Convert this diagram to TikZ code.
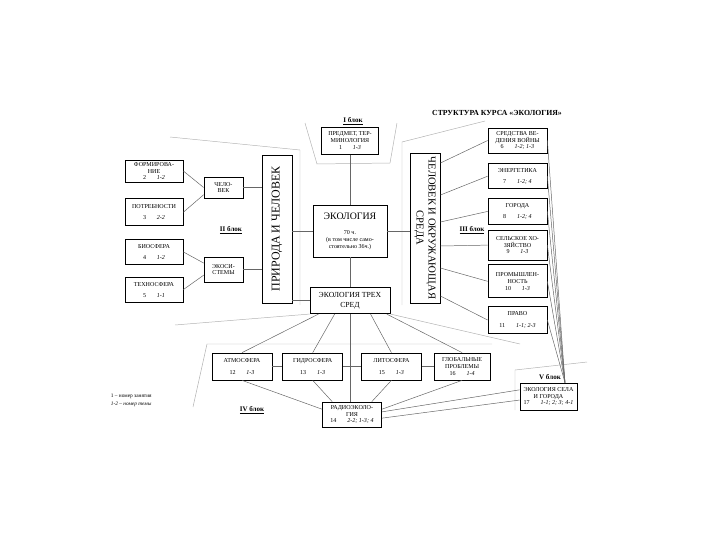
\documentclass[tikz,border=0pt]{standalone}
\usepackage{fontspec}
\setmainfont{Liberation Serif}
\usetikzlibrary{positioning}
\newcommand{\lesson}[2]{#1\hspace{1.8em}\textit{#2}}

\begin{document}
\begin{tikzpicture}[
    x=0.25mm, y=-0.25mm,
    every node/.style={align=center, font=\fontsize{4.3}{4.9}\selectfont},
    box/.style={draw, line width=0.5pt, inner sep=0.5pt},
    lbox/.style={box, minimum width=14.5mm},
    rbox/.style={box, minimum width=14.75mm},
    sbox/.style={box, minimum width=15mm, minimum height=6.75mm},
    tall/.style={box, line width=0.6pt, minimum width=37.5mm, minimum height=7.5mm, font=\fontsize{7.5}{8.5}\selectfont},
    blok/.style={font=\fontsize{5}{6}\selectfont\bfseries},
    link/.style={draw=black!60, line width=0.35pt},
    frame/.style={draw=black!30, line width=0.35pt}
]
\useasboundingbox (0,0) rectangle (720,540);

\node[font=\fontsize{5.5}{6.5}\selectfont\bfseries] (title) at (497,113) {СТРУКТУРА КУРСА «ЭКОЛОГИЯ»};

\node[box, minimum width=18.5mm, minimum height=13mm] (ecol) at (350,231)
    {{\fontsize{7}{8}\selectfont ЭКОЛОГИЯ}\\[6pt]70 ч.\\(в том числе само-\\стоятельно 36ч.)};
\node[box, minimum width=20mm, minimum height=6.5mm, below=7.5mm of ecol, font=\fontsize{5.5}{6.5}\selectfont] (ets) {ЭКОЛОГИЯ ТРЕХ\\СРЕД};
\node[box, minimum width=14.25mm, minimum height=6.75mm, above=12.5mm of ecol] (subj) {ПРЕДМЕТ, ТЕР-\\МИНОЛОГИЯ\\\lesson{1}{1-3}};
\node[blok] (b1) at (353,121) {\underline{I блок}};

\node[tall, rotate=90, minimum width=37mm, font=\fontsize{8.5}{9.5}\selectfont] (nature) at (277,229) {ПРИРОДА И ЧЕЛОВЕК};
\node[tall, rotate=-90] (envir) at (425,228) {ЧЕЛОВЕК И ОКРУЖАЮЩАЯ\\СРЕДА};

\node[lbox, minimum height=5.5mm] (form) at (154,171) {ФОРМИРОВА-\\НИЕ\\\lesson{2}{1-2}};
\node[lbox, minimum height=6.75mm, below=4mm of form] (needs) {ПОТРЕБНОСТИ\\[3pt]\lesson{3}{2-2}};
\node[lbox, minimum height=6.25mm, below=3.25mm of needs] (bio) {БИОСФЕРА\\[3pt]\lesson{4}{1-2}};
\node[lbox, minimum height=6.25mm, below=3mm of bio] (techno) {ТЕХНОСФЕРА\\[3pt]\lesson{5}{1-1}};
\node[box, minimum width=9.75mm, minimum height=5.25mm] (man) at (223.5,187.5) {ЧЕЛО-\\ВЕК};
\node[box, minimum width=9.75mm, minimum height=6.25mm] (ecosys) at (223.5,269.5) {ЭКОСИ-\\СТЕМЫ};
\node[blok] (b2) at (231,230) {\underline{II блок}};

\node[rbox, minimum height=6.25mm] (war) at (517.5,140.5) {СРЕДСТВА ВЕ-\\ДЕНИЯ ВОЙНЫ\\\lesson{6}{1-2; 1-3}};
\node[rbox, minimum height=6.25mm, below=2.5mm of war] (energy) {ЭНЕРГЕТИКА\\[3pt]\lesson{7}{1-2; 4}};
\node[rbox, minimum height=6.5mm, below=2.25mm of energy] (cities) {ГОРОДА\\[3pt]\lesson{8}{1-2; 4}};
\node[rbox, minimum height=7.5mm, below=1.25mm of cities] (agri) {СЕЛЬСКОЕ ХО-\\ЗЯЙСТВО\\\lesson{9}{1-3}};
\node[rbox, minimum height=8.25mm, below=1mm of agri] (industry) {ПРОМЫШЛЕН-\\НОСТЬ\\\lesson{10}{1-3}};
\node[rbox, minimum height=6.75mm, below=2mm of industry] (law) {ПРАВО\\[4pt]\lesson{11}{1-1; 2-3}};
\node[blok] (b3) at (472,230) {\underline{III блок}};

\node[sbox] (atmo) at (242,366.5) {АТМОСФЕРА\\[4pt]\lesson{12}{1-3}};
\node[sbox, right=2.5mm of atmo] (hydro) {ГИДРОСФЕРА\\[4pt]\lesson{13}{1-3}};
\node[sbox, right=4.5mm of hydro] (litho) {ЛИТОСФЕРА\\[4pt]\lesson{15}{1-3}};
\node[sbox, minimum width=14mm, right=3mm of litho] (global) {ГЛОБАЛЬНЫЕ\\ПРОБЛЕМЫ\\\lesson{16}{1-4}};
\node[box, minimum width=14.75mm, minimum height=6.25mm] (radio) at (352,414.5) {РАДИОЭКОЛО-\\ГИЯ\\\lesson{14}{2-2; 1-3; 4}};
\node[blok] (b4) at (252,410) {\underline{IV блок}};

\node[box, minimum width=14.25mm, minimum height=6.75mm] (village) at (548.5,396.5) {ЭКОЛОГИЯ СЕЛА\\И ГОРОДА\\\lesson{17}{1-1; 2; 3; 4-1}};
\node[blok] (b5) at (550,377) {V блок};

\node[anchor=west, font=\fontsize{3.8}{4.5}\selectfont] (key1) at (106,396) {1 -- номер занятия};
\node[anchor=west, font=\fontsize{3.8}{4.5}\selectfont\itshape] (key2) at (106,404) {1-2 -- номер темы};

\draw[frame] (170,137) -- (300,150) -- (300,305);
\draw[frame] (485,121) -- (402,142) -- (402,305);
\draw[frame] (305,123) -- (317,164) -- (390,163) -- (397,123);
\draw[frame] (ets.south west) -- (175,325);
\draw[frame] (ets.south east) -- (520,344);
\draw[frame] (193,407) -- (207,344) -- (492,344);
\draw[frame] (515,410) -- (515,370) -- (587,362);

\draw[link] (form.east) -- (man.west);
\draw[link] (needs.east) -- (man.200);
\draw[link] (bio.east) -- (ecosys.162);
\draw[link] (techno.east) -- (ecosys.196);
\draw[link] (man.east) -- (man.east -| nature.north);
\draw[link] (ecosys.east) -- (ecosys.east -| nature.north);
\draw[link] (ecol.west -| nature.south) -- (ecol.west);
\draw[link] (ecol.east) -- (ecol.east -| envir.south);
\draw[link] (ets.west) -- (ets.west -| nature.south);
\draw[link] (subj.south) -- (ecol.north);
\draw[link] (ecol.south) -- (ets.north);
\draw[link] (ets.south) -- (ets.south |- radio.north);

\draw[link] (envir.north |- 0,163) -- (war.west);
\draw[link] (envir.north |- 0,195) -- (energy.west);
\draw[link] (envir.north |- 0,222) -- (cities.west);
\draw[link] (envir.north |- 0,246) -- (agri.west);
\draw[link] (envir.north |- 0,268) -- (industry.west);
\draw[link] (envir.north |- 0,296) -- (law.west);
\foreach \b in {war, energy, cities, agri, industry, law}
    \draw[link] (\b.east) -- (village.40);

\draw[link] (ets.203) -- (atmo.north);
\draw[link] (ets.221) -- (hydro.north);
\draw[link] (ets.327) -- (litho.north);
\draw[link] (ets.340) -- (global.north);
\draw[link] (atmo.east) -- (hydro.west);
\draw[link] (hydro.east) -- (litho.west);
\draw[link] (litho.east) -- (global.west);
\draw[link] (atmo.south) -- (radio.170);
\draw[link] (hydro.south) -- (radio.147);
\draw[link] (litho.south) -- (radio.33);
\draw[link] (global.south) -- (radio.10);
\draw[link] (radio.5) -- (village.167);
\draw[link] (radio.353) -- (village.187);
\end{tikzpicture}
\end{document}
